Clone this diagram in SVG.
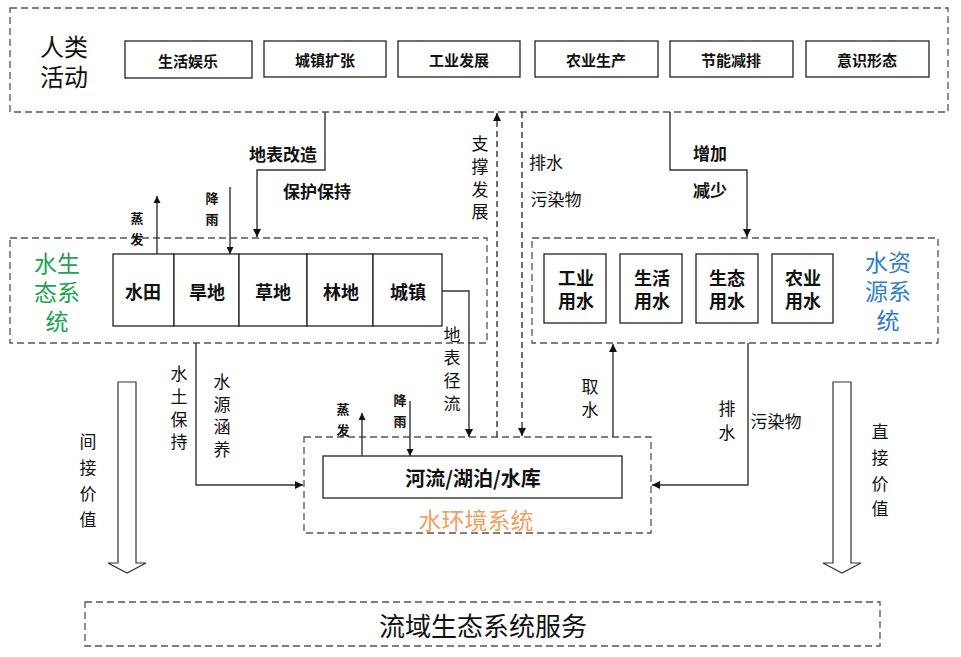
<svg xmlns="http://www.w3.org/2000/svg" width="961" height="657" viewBox="0 0 961 657">
<defs>
<marker id="ah" viewBox="0 0 10 10" refX="10" refY="5" markerWidth="8" markerHeight="8" markerUnits="userSpaceOnUse" orient="auto">
<path d="M0,0 L10,5 L0,10 Z" fill="#111"/>
</marker>
<marker id="ahs" viewBox="0 0 10 10" refX="10" refY="5" markerWidth="7" markerHeight="7" markerUnits="userSpaceOnUse" orient="auto">
<path d="M0,0 L10,5 L0,10 Z" fill="#111"/>
</marker>
</defs>
<style>
text{font-family:"Noto Sans CJK SC","Liberation Sans",sans-serif;fill:#111;text-anchor:middle;dominant-baseline:central}
tspan{dominant-baseline:central}
.dash{fill:none;stroke:#555;stroke-width:1.3;stroke-dasharray:7,4}
.box{fill:#fff;stroke:#222;stroke-width:1.3}
.b{font-weight:bold}
.t16{font-size:15px;font-weight:bold}
.c{fill:none;stroke:#333;stroke-width:1.4}
.cd{fill:none;stroke:#333;stroke-width:1.4;stroke-dasharray:6,4}
.lab{font-size:17px}
.big{font-size:23px}
.cell{font-size:18px;font-weight:bold}
.sm{font-size:13px;font-weight:bold}
.hollow{fill:#fff;stroke:#333;stroke-width:1.2}
</style>
<rect width="961" height="657" fill="#fff"/>

<g id="human">
<rect class="dash" x="10" y="8" width="938" height="104"/>
<text class="big" style="font-size:24px"><tspan x="64" y="45">人类</tspan><tspan x="64" y="75">活动</tspan></text>
</g>
<g id="h1"><rect class="box" x="125" y="41" width="127" height="37"/><text class="t16" x="188" y="60">生活娱乐</text></g>
<g id="h2"><rect class="box" x="264" y="41" width="122" height="36"/><text class="t16" x="325" y="59">城镇扩张</text></g>
<g id="h3"><rect class="box" x="398" y="41" width="122" height="36"/><text class="t16" x="459" y="59">工业发展</text></g>
<g id="h4"><rect class="box" x="535" y="41" width="123" height="36"/><text class="t16" x="596" y="59">农业生产</text></g>
<g id="h5"><rect class="box" x="670" y="41" width="123" height="36"/><text class="t16" x="731" y="59">节能减排</text></g>
<g id="h6"><rect class="box" x="806" y="41" width="123" height="36"/><text class="t16" x="867" y="59">意识形态</text></g>

<g id="eco">
<rect class="dash" x="10" y="238" width="477" height="105"/>
<text class="big" style="fill:#22a34f"><tspan x="57" y="262">水生</tspan><tspan x="57" y="291">态系</tspan><tspan x="57" y="320">统</tspan></text>
</g>
<g id="e1"><rect class="box" x="113" y="254" width="61" height="72"/><text class="cell" x="143" y="291">水田</text></g>
<g id="e2"><rect class="box" x="174" y="254" width="65" height="72"/><text class="cell" x="207" y="291">旱地</text></g>
<g id="e3"><rect class="box" x="239" y="254" width="68" height="72"/><text class="cell" x="273" y="291">草地</text></g>
<g id="e4"><rect class="box" x="307" y="254" width="66" height="72"/><text class="cell" x="341" y="291">林地</text></g>
<g id="e5"><rect class="box" x="373" y="254" width="69" height="72"/><text class="cell" x="408" y="291">城镇</text></g>

<g id="res">
<rect class="dash" x="532" y="238" width="406" height="105"/>
<text class="big" style="fill:#2f7fc8"><tspan x="888" y="261">水资</tspan><tspan x="888" y="290">源系</tspan><tspan x="888" y="319">统</tspan></text>
</g>
<g id="r1"><rect class="box" x="544" y="254" width="62" height="69"/><text class="cell"><tspan x="576" y="277">工业</tspan><tspan x="576" y="300">用水</tspan></text></g>
<g id="r2"><rect class="box" x="620" y="254" width="62" height="69"/><text class="cell"><tspan x="652" y="277">生活</tspan><tspan x="652" y="300">用水</tspan></text></g>
<g id="r3"><rect class="box" x="696" y="254" width="62" height="69"/><text class="cell"><tspan x="727" y="277">生态</tspan><tspan x="727" y="300">用水</tspan></text></g>
<g id="r4"><rect class="box" x="772" y="254" width="61" height="69"/><text class="cell"><tspan x="803" y="277">农业</tspan><tspan x="803" y="300">用水</tspan></text></g>

<g id="env">
<rect class="dash" x="304" y="437" width="347" height="96"/>
<text class="big" x="476" y="519" style="fill:#f0a060">水环境系统</text>
</g>
<g id="river"><rect class="box" x="323" y="456" width="299" height="42"/><text class="b" x="473" y="477" style="font-size:20px">河流/湖泊/水库</text></g>

<g id="service">
<rect class="dash" x="85" y="602" width="795" height="44"/>
<text x="483" y="624" style="font-size:26px">流域生态系统服务</text>
</g>

<g id="connectors">
<polyline class="c" points="325,112 325,170 257,170 257,237" marker-end="url(#ah)"/>
<polyline class="c" points="670,112 670,170 747,170 747,237" marker-end="url(#ah)"/>
<line class="c" x1="157" y1="254" x2="157" y2="196" marker-end="url(#ahs)"/>
<line class="c" x1="230" y1="187" x2="230" y2="254" marker-end="url(#ahs)"/>
<polyline class="c" points="442,291 469,291 469,437" marker-end="url(#ah)"/>
<line class="cd" x1="497" y1="437" x2="497" y2="113" marker-end="url(#ah)"/>
<line class="cd" x1="522" y1="112" x2="522" y2="436" marker-end="url(#ah)"/>
<line class="c" x1="362" y1="456" x2="362" y2="413" marker-end="url(#ahs)"/>
<line class="c" x1="410" y1="401" x2="410" y2="456" marker-end="url(#ahs)"/>
<polyline class="c" points="196,343 196,485 303,485" marker-end="url(#ah)"/>
<line class="c" x1="613" y1="437" x2="613" y2="344" marker-end="url(#ah)"/>
<polyline class="c" points="748,343 748,485 652,485" marker-end="url(#ah)"/>
<polygon class="hollow" points="118,382 136,382 136,563 146,563 127,573 108,563 118,563"/>
<polygon class="hollow" points="833,382 851,382 851,563 861,563 842,573 823,563 833,563"/>
</g>

<g id="labels">
<text class="lab b" x="283" y="153">地表改造</text>
<text class="lab b" x="317" y="190">保护保持</text>
<text class="sm"><tspan x="137" y="217">蒸</tspan><tspan x="137" y="238">发</tspan></text>
<text class="sm"><tspan x="212" y="197">降</tspan><tspan x="212" y="218">雨</tspan></text>
<text class="lab"><tspan x="480" y="142">支</tspan><tspan x="480" y="165">撑</tspan><tspan x="480" y="188">发</tspan><tspan x="480" y="210">展</tspan></text>
<text class="lab" x="546" y="161">排水</text>
<text class="lab" x="556" y="198">污染物</text>
<text class="lab b" x="710" y="152">增加</text>
<text class="lab b" x="710" y="189">减少</text>
<text class="lab"><tspan x="452" y="333">地</tspan><tspan x="452" y="356">表</tspan><tspan x="452" y="379">径</tspan><tspan x="452" y="402">流</tspan></text>
<text class="lab"><tspan x="179" y="372">水</tspan><tspan x="179" y="395">土</tspan><tspan x="179" y="418">保</tspan><tspan x="179" y="440">持</tspan></text>
<text class="lab"><tspan x="222" y="380">水</tspan><tspan x="222" y="403">源</tspan><tspan x="222" y="425">涵</tspan><tspan x="222" y="448">养</tspan></text>
<text class="sm"><tspan x="343" y="408">蒸</tspan><tspan x="343" y="429">发</tspan></text>
<text class="sm"><tspan x="400" y="399">降</tspan><tspan x="400" y="420">雨</tspan></text>
<text class="lab"><tspan x="590" y="385">取</tspan><tspan x="590" y="408">水</tspan></text>
<text class="lab"><tspan x="727" y="407">排</tspan><tspan x="727" y="431">水</tspan></text>
<text class="lab" x="776" y="420">污染物</text>
<text class="lab"><tspan x="88" y="440">间</tspan><tspan x="88" y="466">接</tspan><tspan x="88" y="492">价</tspan><tspan x="88" y="518">值</tspan></text>
<text class="lab"><tspan x="880" y="430">直</tspan><tspan x="880" y="456">接</tspan><tspan x="880" y="482">价</tspan><tspan x="880" y="507">值</tspan></text>
</g>
</svg>
